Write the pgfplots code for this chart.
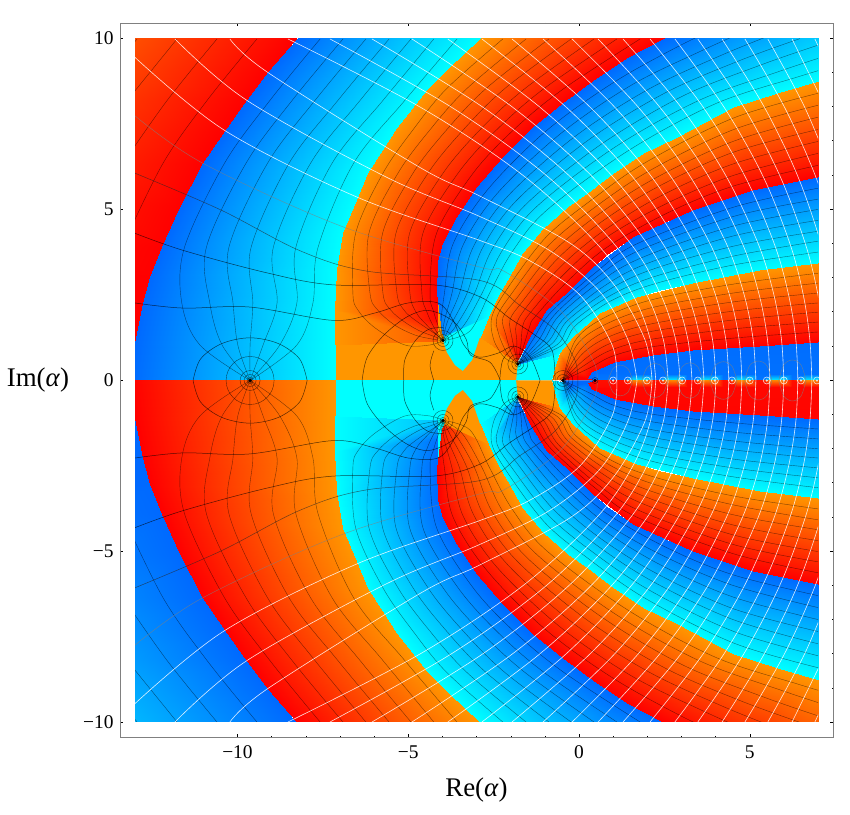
\documentclass[border=0pt]{standalone}
\usepackage{pgfplots}
\usepackage{pgfplotstable}
\usepackage{fontspec}
\setmainfont{Liberation Serif}
\pgfplotsset{compat=1.18}
\pgfplotstableread{
x y c
-13.5 0 3
-13.15 0 3
-13.5 1.10 3
-13.00 1.10 3
-13.5 2.27 3
-12.77 2.27 3
-13.5 3.09 3
-12.56 3.03 3
-13.5 3.90 2.95
-12.21 3.90 3
-13.5 5.2 2.87
-11.68 5.07 3
-13.5 6.36 2.78
-11.01 6.36 3
-13.5 7.3 2.7
-10.37 7.32 3
-13.5 8.2 2.62
-9.72 8.20 3
-13.5 9.1 2.52
-9.11 9.02 3
-13.5 10.1 2.42
-8.22 10.1 3
}\bandA
\pgfplotstableread{
x y c
-13.15 0 0
-7.14 0 1
-13.00 1.10 0
-7.14 1.10 1
-12.77 2.27 0
-7.14 2.06 1
-12.56 3.03 0
-7.08 3.23 1
-12.21 3.90 0
-6.91 4.31 1
-11.68 5.07 0
-6.50 5.28 1
-11.01 6.36 0
-6.18 6.07 1
-10.37 7.32 0
-5.74 6.74 1
-9.72 8.20 0
-5.33 7.38 1
-9.11 9.02 0
-4.42 8.55 1
-8.26 10 0
-3.78 9.17 1
-7.29 11.13 0
-2.90 10 1
-6 12.5 0
-1.73 11.13 1
}\bandB
\pgfplotstableread{
x y c
-7.14 1.04 2
-4.15 1.17 2.4
-7.14 2.06 2
-4.15 1.75 2.95
-7.08 3.23 2
-4.16 2.56 3
-6.91 4.31 2
-4.13 3.50 3
-6.50 5.28 2
-3.98 4.02 3
-6.18 6.07 2
-3.57 4.78 3
-5.74 6.74 2
-2.99 5.66 3
-5.33 7.38 2
-2.23 6.54 3
-4.42 8.55 2
-1.38 7.38 3
-3.78 9.17 2
-0.47 8.14 3
-2.90 10 2
0.53 8.85 3
-2.30 10.6 2
1.41 9.43 3
-1.73 11.13 2
2.46 10 3
-0.5 12.2 2
4.13 10.83 3
}\bandC
\pgfplotstableread{
x y c
-3.93 1.22 0.9
-2.90 1.27 1
-4.02 1.40 0.2
-2.66 1.86 1
-4.16 2.56 0
-2.40 2.44 1
-4.13 3.50 0
-2.11 2.94 1
-3.98 4.02 0
-1.67 3.73 1
-3.57 4.78 0
-1.08 4.45 1
-2.99 5.66 0
-0.35 5.07 1
-2.23 6.54 0
0.23 5.48 1
-1.38 7.38 0
1.00 6.07 1
-0.47 8.14 0
1.87 6.65 1
0.53 8.85 0
2.87 7.12 1
1.41 9.43 0
4.51 8.00 1
2.46 10 0
5.80 8.41 1
4.13 10.83 0
7.00 8.76 1
6 12 0
8.81 9.23 1
8 13 0
11 10.5 1
}\bandD
\pgfplotstableread{
x y c
-2.90 1.27 2
-1.84 0.55 2.5
-2.66 1.86 2
-1.75 0.70 3
-2.40 2.44 2
-1.43 1.27 3
-2.11 2.94 2
-0.94 2.06 3
-1.67 3.73 2
-0.35 2.56 3
-1.08 4.45 2
0.41 3.32 3
-0.35 5.07 2
0.82 3.70 3
0.23 5.48 2
1.58 4.20 3
1.00 6.07 2
2.52 4.63 3
1.87 6.65 2
3.34 4.99 3
2.87 7.12 2
5.10 5.57 3
4.51 8.00 2
7.00 5.95 3
5.80 8.41 2
8.81 6.30 3
7.00 8.76 2
10.57 6.59 3
8.81 9.23 2
12.5 6.9 3
11 10.5 2
14 7.2 3
}\bandE
\pgfplotstableread{
x y c
-1.79 0.48 0.1
-0.56 0.80 1
-1.43 1.27 0
-0.18 1.27 1
-0.94 2.06 0
0.61 1.97 1
-0.35 2.56 0
1.70 2.44 1
0.41 3.32 0
2.37 2.65 1
1.58 4.20 0
3.34 2.85 1
3.34 4.99 0
5.30 3.23 1
5.10 5.57 0
7.00 3.44 1
7.00 5.95 0
8.81 3.61 1
8.81 6.30 0
10.57 3.80 1
}\bandF
\pgfplotstableread{
x y c
-0.79 0 2
-0.47 0.03 2.5
-0.68 0.45 2
-0.30 0.20 2.9
-0.56 0.80 2
0.26 0.07 3
-0.18 1.27 2
0.38 0.25 3
0.61 1.97 2
1.05 0.54 3
1.70 2.44 2
2.17 0.75 3
3.34 2.85 2
3.34 0.89 3
5.30 3.23 2
5.30 1.01 3
7.00 3.44 2
7.00 1.13 3
8.81 3.61 2
8.81 1.24 3
}\bandG
\pgfplotstableread{
x y c
0.26 0.07 0
0.47 0 0.02
0.38 0.25 0
0.80 0.2 0.03
1.05 0.54 0
1.40 0.2 0.05
2.17 0.75 0.03
2.30 0.2 0.05
3.34 0.89 0.03
3.34 0.2 0.05
5.30 1.01 0.03
5.30 0.2 0.05
7.00 1.13 0.03
7.00 0.2 0.05
8.81 1.24 0.03
8.81 0.2 0.05
}\bandH
\pgfplotstableread{
x y c
0.47 0.2 0.05
0.47 0 0.1
1.29 0.2 0.05
1.29 0 0.1
1.59 0.2 0.05
1.59 0 0.9
1.89 0.2 0.05
1.89 0 0.9
2.19 0.2 0.05
2.19 0 0.1
2.27 0.2 0.05
2.27 0 0.1
2.57 0.2 0.05
2.57 0 0.9
2.87 0.2 0.05
2.87 0 0.9
3.17 0.2 0.05
3.17 0 0.1
3.31 0.2 0.05
3.31 0 0.1
3.61 0.2 0.05
3.61 0 0.9
3.91 0.2 0.05
3.91 0 0.9
4.21 0.2 0.05
4.21 0 0.1
4.32 0.2 0.05
4.32 0 0.1
4.62 0.2 0.05
4.62 0 0.9
4.92 0.2 0.05
4.92 0 0.9
5.22 0.2 0.05
5.22 0 0.1
5.33 0.2 0.05
5.33 0 0.1
5.63 0.2 0.05
5.63 0 0.9
5.93 0.2 0.05
5.93 0 0.9
6.23 0.2 0.05
6.23 0 0.1
6.28 0.2 0.05
6.28 0 0.1
6.58 0.2 0.05
6.58 0 0.9
6.88 0.2 0.05
6.88 0 0.9
7.2 0.2 0.05
7.2 0 0.1
}\bandI
\definecolor{co}{RGB}{255,150,0}
\definecolor{cc}{RGB}{0,255,255}
\definecolor{bb}{RGB}{0,105,255}
\pgfplotsset{
 ph/.style={surf,shader=interp,mesh/cols=2,forget plot},
 lin/.style={line width=0.4bp,black,opacity=0.5,smooth,tension=0.55,forget plot},
 wl/.style={line width=0.6bp,white,opacity=0.85,smooth,tension=0.55,forget plot},
 gl/.style={line width=0.5bp,opacity=0.65,smooth,tension=0.55,forget plot},
 fl/.style={draw=none,forget plot},
}
\newcommand{\both}[1]{%
  \addplot[ph,point meta=\thisrow{c}] table[x=x,y=y] {#1};
  \addplot[ph,point meta=3-\thisrow{c}] table[x=x,y expr=-\thisrow{y}] {#1};
}
\newcommand{\pl}[1]{\addplot[lin] coordinates {#1};\addplot[lin,y filter/.expression={-y}] coordinates {#1};}
\newcommand{\wl}[1]{\addplot[wl] coordinates {#1};\addplot[wl,y filter/.expression={-y}] coordinates {#1};}
\newcommand{\gl}[2]{\addplot[gl,color=#1] coordinates {#2};\addplot[gl,color=#1,y filter/.expression={-y}] coordinates {#2};}
\begin{document}
\begin{tikzpicture}[x=1bp,y=1bp]
\path[use as bounding box] (0,0) rectangle (850,815);
\begin{axis}[at={(135bp,93bp)},anchor=south west,scale only axis,width=683bp,height=683bp,
 xmin=-13,xmax=7,ymin=-10,ymax=10,hide axis,
 colormap={ph}{rgb255(0)=(0,105,255) rgb255(1)=(0,255,255) rgb255(2)=(255,150,0) rgb255(3)=(255,0,0)},
 point meta min=0,point meta max=3]
 % flat regions next to the real axis
 \addplot[fill=co,fl] coordinates {(-7.14,0)(-1.79,0)(-1.79,2.35)(-7.14,2.35)} -- cycle;
 \addplot[fill=cc,fl] coordinates {(-7.14,0)(-1.79,0)(-1.79,-2.35)(-7.14,-2.35)} -- cycle;
 \both{\bandA}\both{\bandB}\both{\bandC}\both{\bandE}\both{\bandD}
 \addplot[fill=cc,fl] coordinates {(-3.98,1.17)(-3.87,0.83)(-3.63,0.45)(-3.40,0.28)(-3.13,0.60)(-2.90,1.27)(-2.66,1.86)(-3.9,1.3)} -- cycle;
 \addplot[fill=co,fl] coordinates {(-3.98,-1.17)(-3.87,-0.83)(-3.63,-0.45)(-3.40,-0.28)(-3.13,-0.60)(-2.90,-1.27)(-2.66,-1.86)(-3.9,-1.3)} -- cycle;
 \addplot[fill=cc,fl] coordinates {(-1.84,0)(-0.79,0)(-0.50,1.0)(-1.6,0.9)(-1.79,0.48)} -- cycle;
 \addplot[fill=co,fl] coordinates {(-1.84,0)(-0.79,0)(-0.50,-1.0)(-1.6,-0.9)(-1.79,-0.48)} -- cycle;
 \addplot[fill=red,fl] coordinates {(-0.47,0)(0.47,0)(0.35,0.25)(-0.20,0.40)} -- cycle;
 \addplot[fill=bb,fl] coordinates {(-0.47,0)(0.47,0)(0.35,-0.25)(-0.20,-0.40)} -- cycle;
 \both{\bandF}\both{\bandG}\both{\bandH}\both{\bandI}
 % phase contours: band left of B1
 \pl{(-9.43,10)(-10.89,8.2)(-12.18,6.36)(-13.38,3.9)}
 \pl{(-10.6,10)(-12.06,8.2)(-13.35,6.36)}
 \pl{(-11.77,10)(-13.23,8.2)}
 \pl{(-12.94,10)(-14.4,8.2)}
 % blue band B1-B2
 \pl{(-7.58,10)(-9.05,8.2)(-10.38,6.36)(-11.55,3.9)(-11.63,2.27)(-11.1,1.04)(-9.63,0)}
 \pl{(-6.91,10)(-8.40,8.2)(-9.75,6.36)(-10.91,3.9)(-10.81,2.27)(-10.45,1.04)(-9.63,0)}
 \pl{(-6.24,10)(-7.73,8.2)(-9.12,6.36)(-10.25,3.9)(-10.13,2.27)(-9.99,1.04)(-9.63,0)}
 \pl{(-5.56,10)(-7.06,8.2)(-8.49,6.36)(-9.60,3.9)(-9.55,2.27)(-9.63,1.04)(-9.63,0)}
 \pl{(-4.92,10)(-6.41,8.2)(-7.86,6.36)(-8.95,3.9)(-8.84,2.27)(-9.25,1.04)(-9.63,0)}
 \pl{(-4.25,10)(-5.74,8.2)(-7.23,6.36)(-8.29,3.9)(-8.26,2.27)(-8.76,1.04)(-9.63,0)}
 \pl{(-3.57,10)(-5.10,8.2)(-6.60,6.36)(-7.64,3.9)(-7.79,2.27)(-8.26,1.04)(-9.63,0)}
 % orange band B2-B3
 \pl{(-2.23,10)(-3.87,8.55)(-4.83,7.38)(-5.74,6.07)(-6.54,4.31)(-6.62,2.56)(-6.47,2.06)(-5.97,1.54)(-5.10,1.04)(-4.36,1.04)(-3.98,1.17)}
 \pl{(-1.55,10)(-3.28,8.55)(-4.33,7.38)(-5.30,6.07)(-6.15,4.31)(-6.12,2.56)(-5.89,2.06)(-5.39,1.62)(-4.80,1.33)(-4.28,1.21)(-3.98,1.17)}
 \pl{(-0.88,10)(-2.72,8.55)(-3.84,7.38)(-4.86,6.07)(-5.75,4.31)(-5.74,2.56)(-5.51,2.06)(-5.10,1.71)(-4.66,1.45)(-4.19,1.27)(-3.98,1.17)}
 \pl{(-0.23,10)(-2.17,8.55)(-3.35,7.38)(-4.42,6.07)(-5.36,4.31)(-5.33,2.56)(-5.12,2.06)(-4.80,1.77)(-4.16,1.33)(-3.98,1.17)}
 \pl{(0.44,10)(-1.58,8.55)(-2.86,7.38)(-3.98,6.07)(-4.96,4.31)(-4.95,2.56)(-4.77,2.0)(-4.51,1.68)(-4.13,1.3)(-3.98,1.17)}
 \pl{(1.11,10)(-1.02,8.55)(-2.37,7.38)(-3.54,6.07)(-4.57,4.31)(-4.60,2.56)(-4.45,2.0)(-4.28,1.62)(-4.07,1.27)(-3.98,1.17)}
 \pl{(1.79,10)(-0.44,8.55)(-1.87,7.38)(-3.10,6.07)(-4.17,4.31)(-4.36,2.56)(-4.25,2.0)(-4.10,1.53)(-3.98,1.17)}
 % blue band B3-B4
 \pl{(4.71,10.63)(3.02,9.84)(1.02,8.73)(-0.97,7.30)(-2.69,5.57)(-3.69,3.99)(-3.94,2.55)(-4.04,1.7)(-3.98,1.17)}
 \pl{(5.30,10.42)(3.60,9.66)(1.52,8.64)(-0.56,7.21)(-2.40,5.47)(-3.40,3.95)(-3.72,2.55)(-3.95,1.7)(-3.98,1.17)}
 \pl{(5.89,10.22)(4.16,9.52)(2.02,8.52)(-0.15,7.12)(-2.11,5.37)(-3.10,3.90)(-3.50,2.55)(-3.86,1.7)(-3.98,1.17)}
 \pl{(6.47,10.01)(4.71,9.37)(2.52,8.42)(0.26,7.03)(-1.82,5.28)(-2.83,3.87)(-3.28,2.55)(-3.74,1.65)(-3.98,1.17)}
 \pl{(7.06,9.84)(5.30,9.23)(3.02,8.32)(0.64,6.91)(-1.52,5.19)(-2.55,3.83)(-3.06,2.55)(-3.60,1.6)(-3.98,1.17)}
 \pl{(7.64,9.64)(5.86,9.05)(3.51,8.20)(1.05,6.83)(-1.23,5.10)(-2.25,3.80)(-2.84,2.55)(-3.42,1.55)(-3.98,1.17)}
 \pl{(8.23,9.43)(6.44,8.90)(4.01,8.11)(1.46,6.74)(-0.94,4.99)(-1.96,3.76)(-2.62,2.55)(-3.19,1.45)(-3.98,1.17)}
 % orange band B4-B5
 \pl{(7,8.41)(4.51,7.68)(1.96,6.39)(0.32,5.25)(-0.98,4.18)(-2.09,2.70)(-2.55,1.86)(-2.49,1.18)(-2.17,0.66)(-1.79,0.48)}
 \pl{(7,8.06)(4.51,7.34)(2.08,6.15)(0.41,5.03)(-0.88,3.96)(-1.96,2.56)(-2.40,1.86)(-2.34,1.33)(-2.08,0.75)(-1.79,0.48)}
 \pl{(7,7.71)(4.51,7.00)(2.17,5.89)(0.50,4.81)(-0.78,3.74)(-1.82,2.41)(-2.23,1.83)(-2.14,1.33)(-1.99,0.83)(-1.79,0.48)}
 \pl{(7,7.35)(4.51,6.68)(2.25,5.64)(0.57,4.58)(-0.67,3.52)(-1.68,2.28)(-2.02,1.77)(-1.96,1.24)(-1.87,0.83)(-1.79,0.48)}
 \pl{(7,7.00)(4.51,6.34)(2.37,5.39)(0.66,4.34)(-0.57,3.30)(-1.55,2.13)(-1.84,1.62)(-1.82,1.18)(-1.82,0.83)(-1.79,0.48)}
 \pl{(7,6.65)(4.51,6.00)(2.46,5.13)(0.73,4.14)(-0.47,3.08)(-1.41,2.0)(-1.64,1.62)(-1.70,1.04)(-1.79,0.48)}
 \pl{(7,6.30)(4.51,5.69)(2.58,4.90)(0.82,3.90)(-0.37,2.87)(-1.29,1.86)(-1.43,1.62)(-1.61,1.04)(-1.79,0.48)}
 % blue band B5-B6
 \pl{(7,5.63)(4.51,5.07)(1.67,3.99)(0.50,3.17)(-0.82,2.0)(-1.32,1.24)(-1.79,0.48)}
 \pl{(7,5.31)(4.51,4.80)(1.79,3.82)(0.57,3.06)(-0.70,1.94)(-1.17,1.2)(-1.79,0.48)}
 \pl{(7,5.01)(4.51,4.52)(1.87,3.61)(0.64,2.91)(-0.59,1.89)(-1.05,1.15)(-1.79,0.48)}
 \pl{(7,4.69)(4.51,4.23)(1.98,3.42)(0.73,2.76)(-0.45,1.81)(-0.91,1.13)(-1.79,0.48)}
 \pl{(7,4.37)(4.51,3.93)(2.08,3.23)(0.82,2.62)(-0.34,1.75)(-0.79,1.08)(-1.79,0.48)}
 \pl{(7,4.08)(4.51,3.64)(2.17,3.03)(0.89,2.47)(-0.22,1.68)(-0.64,1.05)(-1.79,0.48)}
 \pl{(7,3.76)(4.51,3.38)(2.28,2.85)(0.97,2.35)(-0.09,1.62)(-0.53,1.01)(-1.79,0.48)}
 % orange band B6-B7
 \pl{(7,3.14)(4.51,2.82)(2.08,2.35)(0.67,1.80)(-0.12,1.15)(-0.47,0)}
 \pl{(7,2.85)(4.51,2.56)(2.08,2.12)(0.73,1.62)(-0.06,1.04)(-0.47,0)}
 \pl{(7,2.56)(4.51,2.30)(2.08,1.89)(0.79,1.45)(0.03,0.89)(-0.47,0)}
 \pl{(7,2.27)(4.51,2.03)(2.08,1.65)(0.83,1.26)(0.09,0.77)(-0.47,0)}
 \pl{(7,2.0)(4.51,1.77)(2.08,1.43)(0.88,1.07)(0.18,0.63)(-0.47,0)}
 \pl{(7,1.71)(4.51,1.51)(2.08,1.20)(0.94,0.89)(0.26,0.51)(-0.47,0)}
 \pl{(7,1.42)(4.51,1.24)(2.08,0.98)(1.0,0.72)(0.32,0.37)(-0.47,0)}
 % modulus contours
 \gl{black}{(-13,2.27)(-11.59,2.12)(-9.63,2.15)(-7.2,1.76)(-6.0,1.97)(-5.0,2.27)(-4.13,2.27)(-3.69,1.77)(-3.37,1.04)(-2.96,0.69)(-2.37,0.80)(-1.9,1.01)(-1.43,0.69)(-1.14,0)}
 \gl{black}{(-13,4.31)(-11.59,3.81)(-9.13,3.15)(-7.2,2.8)(-4.27,2.8)(-2.9,2.45)(-2.04,1.83)(-1.29,1.33)(-0.79,0.89)(-0.70,0)}
 \gl{black!85!white}{(-13,6.07)(-10.5,5.0)(-8.17,3.8)(-6.2,3.2)(-2.9,2.93)(-1.73,2.2)(-0.70,1.48)(-0.12,0.6)(-0.03,0)}
 \gl{gray}{(-13,7.75)(-11.01,6.36)(-6.91,4.5)(-2.9,3.32)(-2.23,3.22)(-0.56,2.06)(0.41,0.6)(0.53,0)}
 \wl{(-13,9.46)(-10.37,7.32)(-6.5,5.37)(-2.9,4.1)(-1.43,3.5)(0.03,2.5)(0.97,1.04)(1.11,0)}
 \wl{(-11.83,10)(-9.72,8.2)(-5.63,5.95)(-2.9,4.8)(-0.85,3.8)(0.61,2.6)(1.43,1.2)(1.70,0)}
 \wl{(-10.22,10)(-9.11,9.02)(-4.66,6.24)(-2.9,5.4)(-0.26,4.02)(1.03,2.8)(1.93,1.2)(2.14,0)}
 \wl{(-8.52,10)(-4.64,8)(-1.63,6)(0.53,4)(1.58,2.5)(2.09,1.2)(2.25,0)}
 \wl{(-7.29,10)(-3.73,8)(-0.95,6)(1.03,4)(1.99,2.5)(2.47,1.2)(2.61,0)}
 \wl{(-6.06,10)(-2.81,8)(-0.29,6)(1.52,4)(2.40,2.5)(2.83,1.2)(2.96,0)}
 \wl{(-4.89,10)(-1.94,8)(0.36,6)(2.0,4)(2.80,2.5)(3.19,1.2)(3.31,0)}
 \wl{(-3.84,10)(-1.14,8)(0.96,6)(2.46,4)(3.19,2.5)(3.55,1.2)(3.66,0)}
 \wl{(-2.84,10)(-0.37,8)(1.54,6)(2.91,4)(3.58,2.5)(3.91,1.2)(4.01,0)}
 \wl{(-1.96,10)(0.33,8)(2.10,6)(3.37,4)(4.0,2.5)(4.30,1.2)(4.39,0)}
 \wl{(-1.05,10)(1.05,8)(2.67,6)(3.84,4)(4.41,2.5)(4.69,1.2)(4.77,0)}
 \wl{(-0.20,10)(1.74,8)(3.24,6)(4.32,4)(4.84,2.5)(5.10,1.2)(5.18,0)}
 \wl{(0.56,10)(2.37,8)(3.78,6)(4.79,4)(5.28,2.5)(5.52,1.2)(5.59,0)}
 \wl{(1.29,10)(2.99,8)(4.30,6)(5.25,4)(5.71,2.5)(5.93,1.2)(6.00,0)}
 \wl{(2.08,10)(3.64,8)(4.85,6)(5.72,4)(6.14,2.5)(6.35,1.2)(6.41,0)}
 \wl{(2.81,10)(4.25,8)(5.38,6)(6.18,4)(6.57,2.5)(6.76,1.2)(6.82,0)}
 \wl{(3.48,10)(4.83,8)(5.88,6)(6.63,4)(7.0,2.5)(7.18,1.2)(7.23,0)}
 \wl{(4.19,10)(5.43,8)(6.40,6)(7.09,4)(7.42,2.5)}
 \wl{(4.86,10)(6.02,8)(6.92,6)(7.57,4)}
 \wl{(5.53,10)(6.61,8)(7.44,6)}
 \wl{(6.24,10)(7.22,8)}
 \wl{(6.91,10)(7.81,8)}
 % closed modulus contours round the zeros
 \gl{black}{(-7.96,0)(-8.18,0.63)(-8.80,1.08)(-9.63,1.25)(-10.46,1.08)(-11.08,0.63)(-11.30,0)}
 \gl{black}{(-6.35,0)(-6.2,0.68)(-5.71,1.33)(-5.04,1.86)(-4.4,2.05)(-3.7,1.75)(-3.3,1.2)(-3.18,0.75)(-2.6,0.53)(-2.3,0)}
 \gl{black}{(-5.13,0)(-5.1,0.6)(-4.78,1.18)(-4.4,1.5)(-3.98,1.55)}
 \gl{black}{(-4.25,0)(-4.36,0.45)(-4.25,0.87)}
 \gl{black}{(-2.32,0)(-2.23,0.6)(-1.9,1.0)}
 % pale loops round the pairs of poles
 \gl{gray}{(0.85,0)(1.0,0.35)(1.21,0.45)(1.43,0.35)(1.58,0)}
 \gl{gray}{(1.84,0)(1.99,0.38)(2.23,0.5)(2.46,0.38)(2.61,0)}
 \gl{gray}{(2.87,0)(3.02,0.4)(3.25,0.52)(3.48,0.4)(3.63,0)}
 \gl{gray}{(3.83,0)(3.98,0.42)(4.23,0.55)(4.48,0.42)(4.63,0)}
 \gl{gray}{(4.85,0)(5.0,0.44)(5.25,0.57)(5.5,0.44)(5.65,0)}
 \gl{gray}{(5.85,0)(6.0,0.46)(6.25,0.6)(6.5,0.46)(6.65,0)}
 \addplot[only marks,mark=o,mark size=3bp,mark options={black,line width=0.4bp,opacity=0.6},forget plot] coordinates {(-9.63,0)(-3.98,1.17)(-3.98,-1.17)(-1.79,0.48)(-1.79,-0.48)(-0.47,0)(0.47,0)};
 \addplot[only marks,mark=o,mark size=6bp,mark options={black,line width=0.4bp,opacity=0.6},forget plot] coordinates {(-9.63,0)(-3.98,1.17)(-3.98,-1.17)(-1.79,0.48)(-1.79,-0.48)(-0.47,0)};
 \addplot[only marks,mark=o,mark size=10bp,mark options={black,line width=0.4bp,opacity=0.6},forget plot] coordinates {(-9.63,0)(-3.98,1.17)(-3.98,-1.17)(-1.79,0.48)(-1.79,-0.48)(-0.47,0)};
 \addplot[only marks,mark=o,mark size=24bp,mark options={black,line width=0.4bp,opacity=0.6},forget plot] coordinates {(-9.63,0)};
 \addplot[only marks,mark=*,mark size=1.4bp,mark options={black,draw=none},forget plot] coordinates {(-9.63,0)(-3.98,1.17)(-3.98,-1.17)(-1.79,0.48)(-1.79,-0.48)(-0.47,0)(0.47,0)};
 % rings round the poles on the positive axis
 \addplot[only marks,mark=o,mark size=3.5bp,mark options={white,line width=0.6bp,opacity=0.8},forget plot] coordinates {(1.0,0)(1.43,0)(1.99,0)(2.46,0)(3.02,0)(3.48,0)(3.98,0)(4.48,0)(5.0,0)(5.5,0)(6.0,0)(6.5,0)(6.97,0)};
 \addplot[only marks,mark=*,mark size=0.9bp,mark options={white!80!gray,draw=none},forget plot] coordinates {(1.0,0)(1.43,0)(1.99,0)(2.46,0)(3.02,0)(3.48,0)(3.98,0)(4.48,0)(5.0,0)(5.5,0)(6.0,0)(6.5,0)(6.97,0)};
\end{axis}
\begin{axis}[at={(120bp,78bp)},anchor=south west,scale only axis,width=713bp,height=714bp,
 xmin=-13.44,xmax=7.44,ymin=-10.44,ymax=10.44,
 axis line style={gray,line width=0.6pt},
 xtick={-10,-5,0,5},ytick={-10,-5,0,5,10},
 xticklabels={−10,−5,0,5},yticklabels={−10,−5,0,5,10},
 minor x tick num=4,minor y tick num=4,
 tick style={black,line width=0.3pt},major tick length=3pt,minor tick length=1.5pt,
 tick label style={font=\fontsize{19.5}{22}\selectfont},
 xticklabel style={yshift=-5bp},yticklabel style={xshift=-3bp},
 xlabel={Re(\textit{α})},ylabel={Im(\textit{α})},
 every axis x label/.style={at={(axis description cs:0.5,0)},anchor=center,yshift=-53bp,font=\fontsize{27}{30}\selectfont},
 every axis y label/.style={at={(axis description cs:0,0.5)},anchor=center,xshift=-82bp,font=\fontsize{27}{30}\selectfont},
]
\end{axis}
\end{tikzpicture}
\end{document}
